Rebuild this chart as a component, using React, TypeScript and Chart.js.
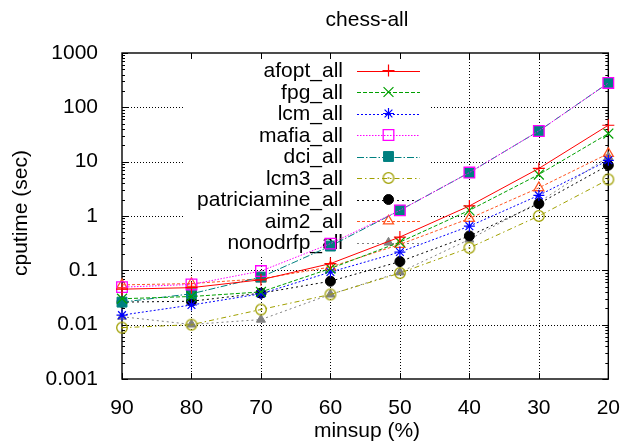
import React, { useEffect, useRef } from 'react';
import { Chart, registerables } from 'chart.js';
import { drawPoint } from 'chart.js/helpers';

Chart.register(...registerables);

const TITLE = 'chess-all';
const X_LABEL = 'minsup (%)';
const Y_LABEL = 'cputime (sec)';

const minsup = [90, 80, 70, 60, 50, 40, 30, 20];
const xTickValues = [90, 80, 70, 60, 50, 40, 30, 20];
const yTickValues = [0.001, 0.01, 0.1, 1, 10, 100, 1000];
const yTickLabels = ['0.001', '0.01', '0.1', '1', '10', '100', '1000'];

const seriesNames = [
  'afopt_all',
  'fpg_all',
  'lcm_all',
  'mafia_all',
  'dci_all',
  'lcm3_all',
  'patriciamine_all',
  'aim2_all',
  'nonodrfp_all',
];

const afopt = [0.045, 0.048, 0.067, 0.133, 0.41, 1.53, 7.5, 46.8];
const fpg = [0.03, 0.033, 0.04, 0.108, 0.33, 1.27, 5.8, 32.9];
const lcm = [0.015, 0.023, 0.037, 0.093, 0.217, 0.65, 2.4, 10.6];
const mafia = [0.049, 0.055, 0.097, 0.31, 1.27, 6.3, 36.7, 281];
const dci = [0.026, 0.037, 0.075, 0.28, 1.27, 6.3, 36.7, 281];
const lcm3 = [0.0088, 0.01, 0.019, 0.036, 0.089, 0.26, 1.0, 4.7];
const patriciamine = [0.026, 0.027, 0.038, 0.063, 0.145, 0.43, 1.69, 8.6];
const aim2 = [0.054, 0.057, 0.07, 0.115, 0.3, 0.9, 3.3, 14.1];
const nonodrfp = [0.014, 0.0101, 0.0124, 0.036, 0.092, 0.37, 1.8, 12.2];

const seriesValues = [afopt, fpg, lcm, mafia, dci, lcm3, patriciamine, aim2, nonodrfp];

const FONT = '"Liberation Sans", Arial, Helvetica, sans-serif';
const FONT_SIZE = 21;

function makeCircleDot(color: string): HTMLCanvasElement {
  const c = document.createElement('canvas');
  c.width = 14;
  c.height = 14;
  const g = c.getContext('2d')!;
  g.strokeStyle = color;
  g.lineWidth = 1.3;
  g.beginPath();
  g.arc(7, 7, 5.3, 0, Math.PI * 2);
  g.stroke();
  g.fillStyle = color;
  g.beginPath();
  g.arc(7, 7, 0.9, 0, Math.PI * 2);
  g.fill();
  return c;
}

type Style = {
  color: string;
  dash: number[];
  pointStyle: any;
  radius: number;
  fill: string;
  pbw: number;
};

function buildStyles(): Style[] {
  return [
    { color: '#ff0000', dash: [], pointStyle: 'cross', radius: 6, fill: 'rgba(0,0,0,0)', pbw: 1.2 },
    { color: '#00a000', dash: [4, 2], pointStyle: 'crossRot', radius: 7, fill: 'rgba(0,0,0,0)', pbw: 1.2 },
    { color: '#0000ff', dash: [2, 2], pointStyle: 'star', radius: 5.5, fill: 'rgba(0,0,0,0)', pbw: 1.2 },
    { color: '#ff00ff', dash: [1.5, 1.5], pointStyle: 'rect', radius: 7.5, fill: 'rgba(0,0,0,0)', pbw: 1.3 },
    { color: '#008080', dash: [7, 2, 1.5, 2], pointStyle: 'rect', radius: 7, fill: '#008080', pbw: 1 },
    { color: '#a0a000', dash: [5, 3, 1.5, 3], pointStyle: makeCircleDot('#a0a000'), radius: 5.5, fill: 'rgba(0,0,0,0)', pbw: 1.2 },
    { color: '#000000', dash: [2, 3], pointStyle: 'circle', radius: 5, fill: '#000000', pbw: 1 },
    { color: '#ff5522', dash: [3, 2], pointStyle: 'triangle', radius: 5.8, fill: 'rgba(0,0,0,0)', pbw: 1.3 },
    { color: '#808080', dash: [2, 3], pointStyle: 'triangle', radius: 5.2, fill: '#808080', pbw: 1 },
  ];
}

const gnuplotPlugin = {
  id: 'gnuplotPlugin',
  beforeDatasetsDraw(chart: any) {
    const { ctx, chartArea: a, scales } = chart;
    const xs = scales.x;
    const ys = scales.y;
    ctx.save();
    // dotted grid
    ctx.strokeStyle = '#000';
    ctx.lineWidth = 1;
    ctx.setLineDash([1, 2]);
    for (const v of xTickValues) {
      if (v === 90 || v === 20) continue;
      const px = Math.round(xs.getPixelForValue(v)) + 0.5;
      ctx.beginPath();
      ctx.moveTo(px, a.top);
      ctx.lineTo(px, a.bottom);
      ctx.stroke();
    }
    for (let i = 1; i < yTickValues.length - 1; i++) {
      const py = Math.round(ys.getPixelForValue(yTickValues[i])) + 0.5;
      ctx.beginPath();
      ctx.moveTo(a.left, py);
      ctx.lineTo(a.right, py);
      ctx.stroke();
    }
    ctx.setLineDash([]);

    // opaque key box
    ctx.fillStyle = '#ffffff';
    ctx.fillRect(185, 58, 246, 198);

    // frame
    ctx.strokeStyle = '#000';
    ctx.lineWidth = 1.4;
    ctx.strokeRect(a.left, a.top, a.right - a.left, a.bottom - a.top);

    // inward ticks
    ctx.lineWidth = 1;
    for (const v of xTickValues) {
      const px = Math.round(xs.getPixelForValue(v)) + 0.5;
      ctx.beginPath();
      ctx.moveTo(px, a.bottom);
      ctx.lineTo(px, a.bottom - 6);
      ctx.moveTo(px, a.top);
      ctx.lineTo(px, a.top + 6);
      ctx.stroke();
    }
    for (let i = 0; i < yTickValues.length; i++) {
      const dec = yTickValues[i];
      const py = Math.round(ys.getPixelForValue(dec)) + 0.5;
      ctx.beginPath();
      ctx.moveTo(a.left, py);
      ctx.lineTo(a.left + 6, py);
      ctx.moveTo(a.right, py);
      ctx.lineTo(a.right - 6, py);
      ctx.stroke();
      if (i < yTickValues.length - 1) {
        for (let m = 2; m <= 9; m++) {
          const pm = Math.round(ys.getPixelForValue(dec * m)) + 0.5;
          ctx.beginPath();
          ctx.moveTo(a.left, pm);
          ctx.lineTo(a.left + 3, pm);
          ctx.moveTo(a.right, pm);
          ctx.lineTo(a.right - 3, pm);
          ctx.stroke();
        }
      }
    }

    // key
    ctx.font = `${FONT_SIZE}px ${FONT}`;
    ctx.textAlign = 'right';
    ctx.textBaseline = 'middle';
    chart.data.datasets.forEach((ds: any, i: number) => {
      const y = 70.5 + i * 21.5;
      ctx.fillStyle = '#000';
      ctx.fillText(ds.label, 343, y + 1);
      ctx.strokeStyle = ds.borderColor;
      ctx.lineWidth = 1;
      ctx.setLineDash(ds.borderDash || []);
      ctx.beginPath();
      ctx.moveTo(357, Math.round(y) + 0.5);
      ctx.lineTo(420, Math.round(y) + 0.5);
      ctx.stroke();
      ctx.setLineDash([]);
      ctx.fillStyle = ds.pointBackgroundColor;
      ctx.strokeStyle = ds.pointBorderColor;
      ctx.lineWidth = ds.pointBorderWidth;
      drawPoint(ctx, { pointStyle: ds.pointStyle, radius: ds.pointRadius, borderWidth: ds.pointBorderWidth, rotation: 0 } as any, 388.5, y);
    });
    ctx.restore();
  },
  afterDraw(chart: any) {
    const { ctx } = chart;
    ctx.save();
    ctx.fillStyle = '#000';
    ctx.font = `${FONT_SIZE}px ${FONT}`;
    ctx.textAlign = 'center';
    ctx.textBaseline = 'middle';
    ctx.fillText(TITLE, 367, 20);
    ctx.fillText(X_LABEL, 367, 431);
    ctx.translate(21, 213);
    ctx.rotate(-Math.PI / 2);
    ctx.fillText(Y_LABEL, 0, 0);
    ctx.restore();
  },
};

export default function App() {
  const ref = useRef<HTMLCanvasElement>(null);
  useEffect(() => {
    document.body.style.margin = '0';
    const styles = buildStyles();
    const datasets = seriesNames.map((name, i) => {
      const s = styles[i];
      return {
        label: name,
        data: minsup.map((x, j) => ({ x, y: seriesValues[i][j] })),
        borderColor: s.color,
        backgroundColor: s.fill,
        borderWidth: 1,
        borderDash: s.dash,
        pointStyle: s.pointStyle,
        pointRadius: s.radius,
        pointHoverRadius: s.radius,
        pointBorderWidth: s.pbw,
        pointBorderColor: s.color,
        pointBackgroundColor: s.fill,
        fill: false,
        tension: 0,
        clip: false as any,
      };
    });
    const chart = new Chart(ref.current!, {
      type: 'line',
      data: { datasets },
      options: {
        animation: false,
        responsive: false,
        events: [],
        layout: { padding: { top: 53, right: 17, left: 0, bottom: 0 } },
        plugins: {
          legend: { display: false },
          title: { display: false },
          tooltip: { enabled: false },
        },
        scales: {
          x: {
            type: 'linear',
            min: 20,
            max: 90,
            reverse: true,
            grid: { display: false },
            border: { display: false },
            afterFit: (s: any) => {
              s.height = 68;
            },
            ticks: {
              stepSize: 10,
              color: '#000',
              padding: 9,
              font: { family: FONT, size: FONT_SIZE },
              callback: (v: any) => String(v),
            },
          },
          y: {
            type: 'logarithmic',
            min: 0.001,
            max: 1000,
            grid: { display: false },
            border: { display: false },
            afterFit: (s: any) => {
              s.width = 122;
            },
            ticks: {
              autoSkip: false,
              color: '#000',
              padding: 16,
              font: { family: FONT, size: FONT_SIZE },
              callback: (v: any) => {
                const l = Math.log10(Number(v));
                const r = Math.round(l);
                if (Math.abs(l - r) > 1e-6) return '';
                const idx = r + 3;
                return yTickLabels[idx] ?? '';
              },
            },
          },
        },
      },
      plugins: [gnuplotPlugin],
    } as any);
    return () => chart.destroy();
  }, []);
  return (
    <div style={{ position: 'relative', width: 629, height: 447, background: '#fff' }}>
      <canvas ref={ref} width={629} height={447} style={{ display: 'block', width: 629, height: 447 }} />
    </div>
  );
}
